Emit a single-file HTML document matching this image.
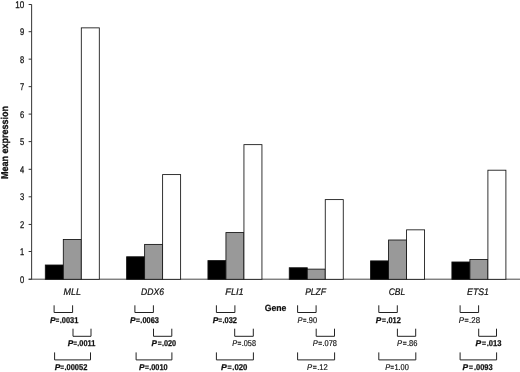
<!DOCTYPE html><html><head><meta charset="utf-8"><style>html,body{margin:0;padding:0;background:#fff}svg{display:block;filter:grayscale(1)}text{font-family:"Liberation Sans",sans-serif;fill:#111;text-rendering:geometricPrecision}</style></head><body>
<svg width="520" height="372" viewBox="0 0 520 372">
<rect width="520" height="372" fill="#fff"/>
<line x1="31.64" y1="4.5" x2="31.64" y2="279.3" stroke="#333" stroke-width="1"/>
<line x1="28.64" y1="279.2" x2="520" y2="279.2" stroke="#333" stroke-width="0.9"/>
<line x1="28.64" y1="279.30" x2="31.64" y2="279.30" stroke="#333" stroke-width="1"/>
<text transform="translate(24.20,282.75) scale(0.78,1)" font-size="9.7" text-anchor="end" stroke="#111" stroke-width="0.25">0</text>
<line x1="28.64" y1="251.50" x2="31.64" y2="251.50" stroke="#333" stroke-width="1"/>
<text transform="translate(24.20,254.95) scale(0.78,1)" font-size="9.7" text-anchor="end" stroke="#111" stroke-width="0.25">1</text>
<line x1="28.64" y1="224.45" x2="31.64" y2="224.45" stroke="#333" stroke-width="1"/>
<text transform="translate(24.20,227.90) scale(0.78,1)" font-size="9.7" text-anchor="end" stroke="#111" stroke-width="0.25">2</text>
<line x1="28.64" y1="196.80" x2="31.64" y2="196.80" stroke="#333" stroke-width="1"/>
<text transform="translate(24.20,200.25) scale(0.78,1)" font-size="9.7" text-anchor="end" stroke="#111" stroke-width="0.25">3</text>
<line x1="28.64" y1="169.30" x2="31.64" y2="169.30" stroke="#333" stroke-width="1"/>
<text transform="translate(24.20,172.75) scale(0.78,1)" font-size="9.7" text-anchor="end" stroke="#111" stroke-width="0.25">4</text>
<line x1="28.64" y1="141.60" x2="31.64" y2="141.60" stroke="#333" stroke-width="1"/>
<text transform="translate(24.20,145.05) scale(0.78,1)" font-size="9.7" text-anchor="end" stroke="#111" stroke-width="0.25">5</text>
<line x1="28.64" y1="114.10" x2="31.64" y2="114.10" stroke="#333" stroke-width="1"/>
<text transform="translate(24.20,117.55) scale(0.78,1)" font-size="9.7" text-anchor="end" stroke="#111" stroke-width="0.25">6</text>
<line x1="28.64" y1="86.65" x2="31.64" y2="86.65" stroke="#333" stroke-width="1"/>
<text transform="translate(24.20,90.10) scale(0.78,1)" font-size="9.7" text-anchor="end" stroke="#111" stroke-width="0.25">7</text>
<line x1="28.64" y1="59.15" x2="31.64" y2="59.15" stroke="#333" stroke-width="1"/>
<text transform="translate(24.20,62.60) scale(0.78,1)" font-size="9.7" text-anchor="end" stroke="#111" stroke-width="0.25">8</text>
<line x1="28.64" y1="31.70" x2="31.64" y2="31.70" stroke="#333" stroke-width="1"/>
<text transform="translate(24.20,35.15) scale(0.78,1)" font-size="9.7" text-anchor="end" stroke="#111" stroke-width="0.25">9</text>
<line x1="28.64" y1="4.50" x2="31.64" y2="4.50" stroke="#333" stroke-width="1"/>
<text transform="translate(24.20,7.95) scale(0.84,1)" font-size="9.7" text-anchor="end" stroke="#111" stroke-width="0.25">10</text>
<text transform="translate(8.3,142.4) rotate(-90)" font-size="9.9" font-weight="bold" stroke="#111" stroke-width="0.3" text-anchor="middle" textLength="73" lengthAdjust="spacingAndGlyphs">Mean expression</text>
<rect x="45.30" y="265.01" width="18.0" height="14.29" fill="#000" stroke="#111" stroke-width="0.85"/>
<rect x="63.30" y="239.45" width="18.0" height="39.85" fill="#999" stroke="#111" stroke-width="0.85"/>
<rect x="81.30" y="27.86" width="18.0" height="251.44" fill="#fff" stroke="#111" stroke-width="0.85"/>
<text transform="translate(72.20,295.40) scale(0.9302083333333333,1)" font-size="9.6" text-anchor="middle" font-style="italic" stroke="#111" stroke-width="0.22">MLL</text>
<path d="M54.10 305.3 V312.5 H72.60 V305.3" fill="none" stroke="#222" stroke-width="1"/>
<g transform="translate(49.95,322.7) scale(0.8896,1)" font-size="8.4" font-weight="bold" stroke="#111" stroke-width="0.25"><text font-style="italic" transform="scale(1.12,1)">P</text><text transform="translate(6.58,0.2) scale(0.8,1)" stroke="#111" stroke-width="0.3">=</text><text x="10.95">.0031</text></g>
<path d="M73.00 328.7 V336.3 H91.00 V328.7" fill="none" stroke="#222" stroke-width="1"/>
<g transform="translate(67.63,346.0) scale(0.8788,1)" font-size="8.4" font-weight="bold" stroke="#111" stroke-width="0.25"><text font-style="italic" transform="scale(1.12,1)">P</text><text transform="translate(6.58,0.2) scale(0.8,1)" stroke="#111" stroke-width="0.3">=</text><text x="10.95">.0011</text></g>
<path d="M54.60 352.4 V359.9 H90.50 V352.4" fill="none" stroke="#222" stroke-width="1"/>
<g transform="translate(54.64,370.0) scale(0.8935,1)" font-size="8.4" font-weight="bold" stroke="#111" stroke-width="0.25"><text font-style="italic" transform="scale(1.12,1)">P</text><text transform="translate(6.58,0.2) scale(0.8,1)" stroke="#111" stroke-width="0.3">=</text><text x="10.95">.00052</text></g>
<rect x="126.62" y="256.77" width="18.0" height="22.53" fill="#000" stroke="#111" stroke-width="0.85"/>
<rect x="144.62" y="244.40" width="18.0" height="34.90" fill="#999" stroke="#111" stroke-width="0.85"/>
<rect x="162.62" y="174.60" width="18.0" height="104.70" fill="#fff" stroke="#111" stroke-width="0.85"/>
<text transform="translate(152.53,295.40) scale(0.894344246496641,1)" font-size="9.6" text-anchor="middle" font-style="italic" stroke="#111" stroke-width="0.22">DDX6</text>
<path d="M134.90 305.3 V312.5 H153.40 V305.3" fill="none" stroke="#222" stroke-width="1"/>
<g transform="translate(129.97,322.7) scale(0.8884,1)" font-size="8.4" font-weight="bold" stroke="#111" stroke-width="0.25"><text font-style="italic" transform="scale(1.12,1)">P</text><text transform="translate(6.80,0.2) scale(0.9,1)" stroke="#111" stroke-width="0.3">=</text><text x="11.67">.0063</text></g>
<path d="M153.50 328.7 V336.3 H171.80 V328.7" fill="none" stroke="#222" stroke-width="1"/>
<g transform="translate(151.62,346.0) scale(0.8692,1)" font-size="8.4" font-weight="bold" stroke="#111" stroke-width="0.25"><text font-style="italic" transform="scale(1.12,1)">P</text><text transform="translate(7.03,0.2) scale(0.9,1)" stroke="#111" stroke-width="0.3">=</text><text x="11.89">.020</text></g>
<path d="M136.10 352.4 V359.9 H171.90 V352.4" fill="none" stroke="#222" stroke-width="1"/>
<g transform="translate(138.97,370.0) scale(0.8830,1)" font-size="8.4" font-weight="bold" stroke="#111" stroke-width="0.25"><text font-style="italic" transform="scale(1.12,1)">P</text><text transform="translate(6.71,0.2) scale(0.9,1)" stroke="#111" stroke-width="0.3">=</text><text x="11.58">.0010</text></g>
<rect x="207.94" y="260.61" width="18.0" height="18.69" fill="#000" stroke="#111" stroke-width="0.85"/>
<rect x="225.94" y="232.58" width="18.0" height="46.72" fill="#999" stroke="#111" stroke-width="0.85"/>
<rect x="243.94" y="144.65" width="18.0" height="134.65" fill="#fff" stroke="#111" stroke-width="0.85"/>
<text transform="translate(234.47,295.40) scale(0.9587495634561867,1)" font-size="9.6" text-anchor="middle" font-style="italic" stroke="#111" stroke-width="0.22">FLI1</text>
<path d="M216.40 305.3 V312.5 H234.90 V305.3" fill="none" stroke="#222" stroke-width="1"/>
<g transform="translate(212.77,322.7) scale(0.8897,1)" font-size="8.4" font-weight="bold" stroke="#111" stroke-width="0.25"><text font-style="italic" transform="scale(1.12,1)">P</text><text transform="translate(6.58,0.2) scale(0.8,1)" stroke="#111" stroke-width="0.3">=</text><text x="10.95">.032</text></g>
<path d="M234.70 328.7 V336.3 H253.30 V328.7" fill="none" stroke="#222" stroke-width="1"/>
<g transform="translate(232.21,346.0) scale(0.8657,1)" font-size="8.4" stroke="#111" stroke-width="0.18"><text font-style="italic" transform="scale(1.02,1)">P</text><text transform="translate(6.24,0.2) scale(0.9,1)" stroke="#111" stroke-width="0.3">=</text><text x="11.10">.058</text></g>
<path d="M216.40 352.4 V359.9 H253.40 V352.4" fill="none" stroke="#222" stroke-width="1"/>
<g transform="translate(220.94,370.0) scale(0.9282,1)" font-size="8.4" font-weight="bold" stroke="#111" stroke-width="0.25"><text font-style="italic" transform="scale(1.12,1)">P</text><text transform="translate(7.03,0.2) scale(0.9,1)" stroke="#111" stroke-width="0.3">=</text><text x="12.19">.020</text></g>
<rect x="289.26" y="267.76" width="18.0" height="11.54" fill="#000" stroke="#111" stroke-width="0.85"/>
<rect x="307.26" y="269.13" width="18.0" height="10.17" fill="#999" stroke="#111" stroke-width="0.85"/>
<rect x="325.26" y="199.61" width="18.0" height="79.69" fill="#fff" stroke="#111" stroke-width="0.85"/>
<text transform="translate(315.60,295.40) scale(0.8870632497615747,1)" font-size="9.6" text-anchor="middle" font-style="italic" stroke="#111" stroke-width="0.22">PLZF</text>
<path d="M297.60 305.3 V312.5 H316.10 V305.3" fill="none" stroke="#222" stroke-width="1"/>
<g transform="translate(297.56,322.7) scale(0.8844,1)" font-size="8.4" stroke="#111" stroke-width="0.18"><text font-style="italic" transform="scale(1.02,1)">P</text><text transform="translate(6.01,0.2) scale(0.8,1)" stroke="#111" stroke-width="0.3">=</text><text x="10.39">.90</text></g>
<path d="M316.20 328.7 V336.3 H334.50 V328.7" fill="none" stroke="#222" stroke-width="1"/>
<g transform="translate(312.69,346.0) scale(0.8844,1)" font-size="8.4" stroke="#111" stroke-width="0.18"><text font-style="italic" transform="scale(1.02,1)">P</text><text transform="translate(6.24,0.2) scale(0.9,1)" stroke="#111" stroke-width="0.3">=</text><text x="11.10">.078</text></g>
<path d="M297.60 352.4 V359.9 H334.60 V352.4" fill="none" stroke="#222" stroke-width="1"/>
<g transform="translate(307.11,370.0) scale(0.9072,1)" font-size="8.4" stroke="#111" stroke-width="0.18"><text font-style="italic" transform="scale(1.02,1)">P</text><text transform="translate(6.24,0.2) scale(0.9,1)" stroke="#111" stroke-width="0.3">=</text><text x="11.10">.12</text></g>
<rect x="370.58" y="260.89" width="18.0" height="18.41" fill="#000" stroke="#111" stroke-width="0.85"/>
<rect x="388.58" y="240.00" width="18.0" height="39.30" fill="#999" stroke="#111" stroke-width="0.85"/>
<rect x="406.58" y="229.84" width="18.0" height="49.46" fill="#fff" stroke="#111" stroke-width="0.85"/>
<text transform="translate(396.98,295.40) scale(0.8848913896960812,1)" font-size="9.6" text-anchor="middle" font-style="italic" stroke="#111" stroke-width="0.22">CBL</text>
<path d="M378.80 305.3 V312.5 H397.30 V305.3" fill="none" stroke="#222" stroke-width="1"/>
<g transform="translate(375.87,322.7) scale(0.8795,1)" font-size="8.4" font-weight="bold" stroke="#111" stroke-width="0.25"><text font-style="italic" transform="scale(1.12,1)">P</text><text transform="translate(6.98,0.2) scale(0.9,1)" stroke="#111" stroke-width="0.3">=</text><text x="12.05">.012</text></g>
<path d="M397.40 328.7 V336.3 H415.70 V328.7" fill="none" stroke="#222" stroke-width="1"/>
<g transform="translate(396.98,346.0) scale(0.8977,1)" font-size="8.4" stroke="#111" stroke-width="0.18"><text font-style="italic" transform="scale(1.02,1)">P</text><text transform="translate(6.33,0.2) scale(0.9,1)" stroke="#111" stroke-width="0.3">=</text><text x="11.19">.86</text></g>
<path d="M378.80 352.4 V359.9 H415.80 V352.4" fill="none" stroke="#222" stroke-width="1"/>
<g transform="translate(385.20,370.0) scale(0.8879,1)" font-size="8.4" stroke="#111" stroke-width="0.18"><text font-style="italic" transform="scale(1.02,1)">P</text><text transform="translate(6.01,0.2) scale(0.8,1)" stroke="#111" stroke-width="0.3">=</text><text x="10.39">1.00</text></g>
<rect x="451.90" y="261.99" width="18.0" height="17.31" fill="#000" stroke="#111" stroke-width="0.85"/>
<rect x="469.90" y="259.51" width="18.0" height="19.79" fill="#999" stroke="#111" stroke-width="0.85"/>
<rect x="487.90" y="170.20" width="18.0" height="109.10" fill="#fff" stroke="#111" stroke-width="0.85"/>
<text transform="translate(477.99,295.40) scale(0.9105413954722568,1)" font-size="9.6" text-anchor="middle" font-style="italic" stroke="#111" stroke-width="0.22">ETS1</text>
<path d="M460.10 305.3 V312.5 H478.60 V305.3" fill="none" stroke="#222" stroke-width="1"/>
<g transform="translate(458.65,322.7) scale(0.9394,1)" font-size="8.4" stroke="#111" stroke-width="0.18"><text font-style="italic" transform="scale(1.02,1)">P</text><text transform="translate(6.24,0.2) scale(0.9,1)" stroke="#111" stroke-width="0.3">=</text><text x="11.10">.28</text></g>
<path d="M478.70 328.7 V336.3 H496.50 V328.7" fill="none" stroke="#222" stroke-width="1"/>
<g transform="translate(475.57,346.0) scale(0.9087,1)" font-size="8.4" font-weight="bold" stroke="#111" stroke-width="0.25"><text font-style="italic" transform="scale(1.12,1)">P</text><text transform="translate(7.03,0.2) scale(0.9,1)" stroke="#111" stroke-width="0.3">=</text><text x="12.19">.013</text></g>
<path d="M460.10 352.4 V359.9 H496.60 V352.4" fill="none" stroke="#222" stroke-width="1"/>
<g transform="translate(462.61,370.0) scale(0.8936,1)" font-size="8.4" font-weight="bold" stroke="#111" stroke-width="0.25"><text font-style="italic" transform="scale(1.12,1)">P</text><text transform="translate(7.03,0.2) scale(0.9,1)" stroke="#111" stroke-width="0.3">=</text><text x="12.69">.0093</text></g>
<text transform="translate(264.70,311.20) scale(0.955,1)" font-size="9.1" text-anchor="start" font-weight="bold" stroke="#111" stroke-width="0.2">Gene</text>
</svg></body></html>
